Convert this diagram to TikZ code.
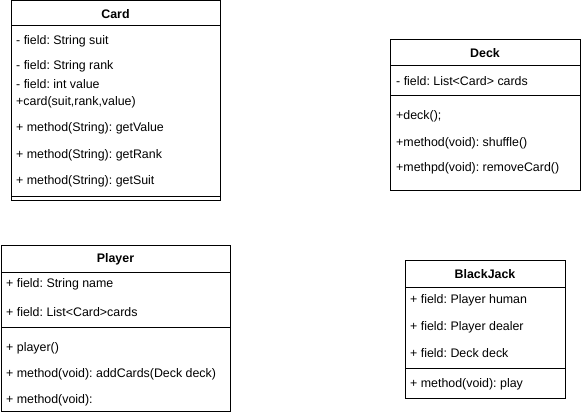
\documentclass[tikz,border=0pt]{standalone}
\usepackage{fontspec}
\setmainfont{Liberation Sans}
\frenchspacing
\tikzset{
  member/.style={anchor=west, inner sep=0pt, font=\fontsize{12.4}{14}\selectfont, yshift=-1pt},
  classname/.style={anchor=center, inner sep=0pt, font=\fontsize{12.4}{14}\selectfont\bfseries},
  umlline/.style={line width=1pt}
}
\begin{document}
\begin{tikzpicture}[x=1pt, y=-1pt]
                        \useasboundingbox (0,0) rectangle (581,417);
                        \fill [white] (0,0) rectangle (581,417);

                        % Drawing class Card
                        \draw [umlline] (11,1) rectangle (220,200);%
                        \draw [umlline] (11,26) -- (220,26);%
                        \draw [umlline] (11,196) -- (220,196);%
                        \draw (115.5,14) node [classname] (cardname) {Card};%
                        \draw (16,40) node [member] (cardsuit) {- field: String suit};%
                        \draw (16,65) node [member] (cardrank) {- field: String rank};%
                        \draw (16,83) node [member] (cardvalue) {- field: int value};%
                        \draw (16,101) node [member] (cardnew) {+card(suit,rank,value)};%
                        \draw (16,127) node [member] (cardgetvalue) {+ method(String): getValue};%
                        \draw (16,154) node [member] (cardgetrank) {+ method(String): getRank};%
                        \draw (16,180) node [member] (cardgetsuit) {+ method(String): getSuit};%

                        % Drawing class Deck
                        \draw [umlline] (390,40) rectangle (580,190);%
                        \draw [umlline] (390,66) -- (580,66);%
                        \draw [umlline] (390,96) -- (580,96);%
                        \draw (485,53) node [classname] (deckname) {Deck};%
                        \draw (396,80) node [member] (deckcards) {- field: List<Card> cards};%
                        \draw (396,115) node [member] (decknew) {+deck();};%
                        \draw (396,142) node [member] (deckshuffle) {+method(void): shuffle()};%
                        \draw (396,167) node [member] (deckremove) {+methpd(void): removeCard()};%

                        % Drawing class Player
                        \draw [umlline] (1,245) rectangle (230,411);%
                        \draw [umlline] (1,272) -- (230,272);%
                        \draw [umlline] (1,327) -- (230,327);%
                        \draw (115.5,259) node [classname] (playername) {Player};%
                        \draw (6,283) node [member] (playerfname) {+ field: String name};%
                        \draw (6,311) node [member] (playercards) {+ field: List<Card>cards};%
                        \draw (6,347) node [member] (playernew) {+ player()};%
                        \draw (6,373) node [member] (playeradd) {+ method(void): addCards(Deck deck)};%
                        \draw (6,399) node [member] (playerempty) {+ method(void):};%

                        % Drawing class BlackJack
                        \draw [umlline] (405,260) rectangle (565,398);%
                        \draw [umlline] (405,287) -- (565,287);%
                        \draw [umlline] (405,368) -- (565,368);%
                        \draw (485,274) node [classname] (gamename) {BlackJack};%
                        \draw (410,299) node [member] (gamehuman) {+ field: Player human};%
                        \draw (410,326) node [member] (gamedealer) {+ field: Player dealer};%
                        \draw (410,352) node [member] (gamedeck) {+ field: Deck deck};%
                        \draw (410,383) node [member] (gameplay) {+ method(void): play};%
\end{tikzpicture}
\end{document}
